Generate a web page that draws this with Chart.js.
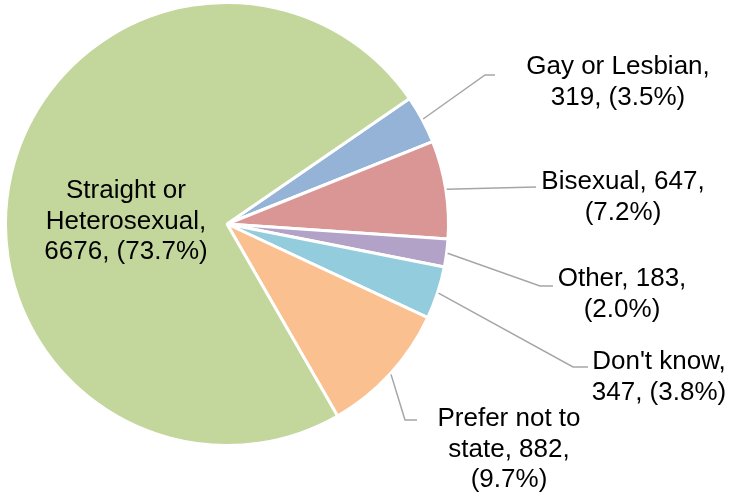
<!DOCTYPE html>
<html>
<head>
<meta charset="utf-8">
<script src="https://cdn.jsdelivr.net/npm/chart.js"></script>
<style>
  html, body { margin: 0; padding: 0; background: #fff; }
  #wrap { width: 731px; height: 496px; position: relative; }
</style>
</head>
<body>
<div id="wrap"><canvas id="chart"></canvas></div>
<script>
// Data (clockwise from the Gay or Lesbian slice)
const categories = ['Gay or Lesbian', 'Bisexual', 'Other', "Don't know", 'Prefer not to state', 'Straight or Heterosexual'];
const counts = [319, 647, 183, 347, 882, 6676];
const percents = ['3.5%', '7.2%', '2.0%', '3.8%', '9.7%', '73.7%'];
const labelLines = [
  ['Gay or Lesbian,', '319, (3.5%)'],
  ['Bisexual, 647,', '(7.2%)'],
  ['Other, 183,', '(2.0%)'],
  ["Don't know,", '347, (3.8%)'],
  ['Prefer not to', 'state, 882,', '(9.7%)'],
  ['Straight or', 'Heterosexual,', '6676, (73.7%)']
];
const sliceColors = ['#95B3D7', '#D99694', '#B3A2C7', '#93CDDD', '#FAC090', '#C3D69B'];

// Label placement: text center x, first line cap-center y, leader elbow + end (null = inside label)
const labelLayout = [
  { x: 618, y: 65, leader: [[485, 75], [495, 75]] },
  { x: 623, y: 180, leader: [[536, 187]] },
  { x: 622, y: 277, leader: [[540, 286], [553, 286]] },
  { x: 659, y: 360, leader: [[573, 367], [588, 367]] },
  { x: 509, y: 417, leader: [[405, 420], [417, 420]] },
  { x: 126, y: 189, leader: null }
];
const FONT_PX = 26;
const LINE_H = 30.5;

const labelPlugin = {
  id: 'sliceLabels',
  afterDatasetsDraw(chart) {
    const ctx = chart.ctx;
    const arcs = chart.getDatasetMeta(0).data;
    ctx.save();
    arcs.forEach((arc, i) => {
      const lay = labelLayout[i];
      if (lay.leader) {
        const p = arc.getProps(['x', 'y', 'startAngle', 'endAngle', 'outerRadius'], true);
        const mid = (p.startAngle + p.endAngle) / 2;
        const r = p.outerRadius + 1;
        ctx.beginPath();
        ctx.moveTo(p.x + Math.cos(mid) * r, p.y + Math.sin(mid) * r);
        lay.leader.forEach(([lx, ly]) => ctx.lineTo(lx, ly));
        ctx.strokeStyle = '#A6A6A6';
        ctx.lineWidth = 1.5;
        ctx.stroke();
      }
      ctx.fillStyle = '#000000';
      ctx.font = FONT_PX + 'px "Liberation Sans", Arial, sans-serif';
      ctx.textAlign = 'center';
      ctx.textBaseline = 'alphabetic';
      labelLines[i].forEach((line, k) => {
        ctx.fillText(line, lay.x, lay.y + k * LINE_H + FONT_PX * 0.716 / 2);
      });
    });
    ctx.restore();
  }
};

new Chart(document.getElementById('chart'), {
  type: 'pie',
  data: {
    labels: categories,
    datasets: [{
      data: counts,
      backgroundColor: sliceColors,
      borderColor: '#FFFFFF',
      borderWidth: 3
    }]
  },
  options: {
    responsive: true,
    maintainAspectRatio: false,
    animation: false,
    rotation: 55.5,
    layout: { padding: { left: 4, top: 1, right: 281, bottom: 49 } },
    plugins: {
      legend: { display: false },
      tooltip: { enabled: false }
    }
  },
  plugins: [labelPlugin]
});
</script>
</body>
</html>
